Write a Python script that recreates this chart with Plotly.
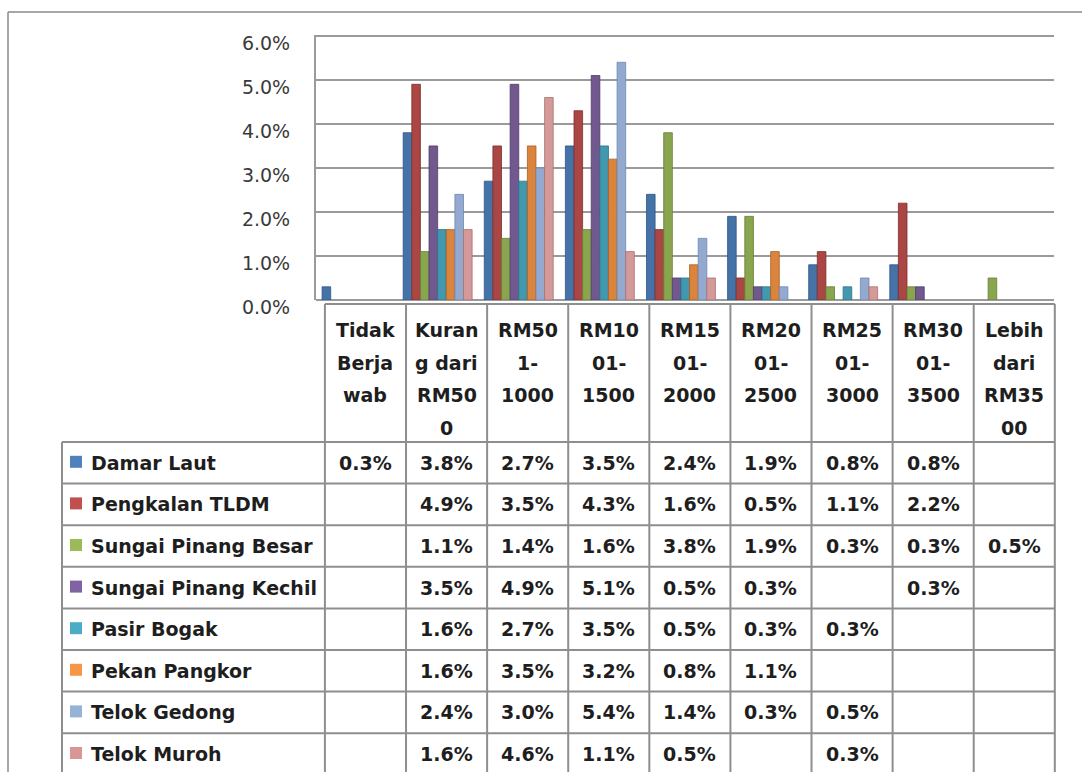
import plotly.graph_objects as go

# ---------------- data ----------------
categories = ["Tidak Berjawab", "Kurang dari RM500", "RM501-1000", "RM1001-1500",
              "RM1501-2000", "RM2001-2500", "RM2501-3000", "RM3001-3500",
              "Lebih dari RM3500"]
header_labels = [["Tidak", "Berja", "wab"], ["Kuran", "g dari", "RM50", "0"],
                 ["RM50", "1-", "1000"], ["RM10", "01-", "1500"], ["RM15", "01-", "2000"],
                 ["RM20", "01-", "2500"], ["RM25", "01-", "3000"], ["RM30", "01-", "3500"],
                 ["Lebih", "dari", "RM35", "00"]]
series_names = ["Damar Laut", "Pengkalan TLDM", "Sungai Pinang Besar",
                "Sungai Pinang Kechil", "Pasir Bogak", "Pekan Pangkor",
                "Telok Gedong", "Telok Muroh"]
damar_laut = [0.3, 3.8, 2.7, 3.5, 2.4, 1.9, 0.8, 0.8, None]
pengkalan_tldm = [None, 4.9, 3.5, 4.3, 1.6, 0.5, 1.1, 2.2, None]
sungai_pinang_besar = [None, 1.1, 1.4, 1.6, 3.8, 1.9, 0.3, 0.3, 0.5]
sungai_pinang_kechil = [None, 3.5, 4.9, 5.1, 0.5, 0.3, None, 0.3, None]
pasir_bogak = [None, 1.6, 2.7, 3.5, 0.5, 0.3, 0.3, None, None]
pekan_pangkor = [None, 1.6, 3.5, 3.2, 0.8, 1.1, None, None, None]
telok_gedong = [None, 2.4, 3.0, 5.4, 1.4, 0.3, 0.5, None, None]
telok_muroh = [None, 1.6, 4.6, 1.1, 0.5, None, 0.3, None, None]
series_values = [damar_laut, pengkalan_tldm, sungai_pinang_besar, sungai_pinang_kechil,
                 pasir_bogak, pekan_pangkor, telok_gedong, telok_muroh]
y_ticks = [0, 1, 2, 3, 4, 5, 6]

# ---------------- styles ----------------
bar_colors = ["#4572A7", "#AA4643", "#89A54E", "#71588F", "#4198AF", "#DB843D",
              "#93A9CF", "#D49A99"]
edge_colors = ["#2f5586", "#7d2f2d", "#647c35", "#4f3c68", "#2c7285", "#a95f24",
               "#6d86b3", "#a96e6d"]
key_colors = ["#4F81BD", "#C0504D", "#9BBB59", "#8064A2", "#4BACC6", "#F79646",
              "#95B3D7", "#D99694"]

W, H = 1082, 772
FONT = "DejaVu Sans"
LINE = "#8e8e8e"
GRID = "#9a9a9a"
TXT = "#1e1e1e"
FS = 19

D0, D1 = 316, 1054            # plot x-domain in px
R0, R1 = -0.5, 8.6            # x range
Y_TOP, Y_BOT = 35, 300        # plot y-domain in px
Y_MAX = 0.0602
COL_SHIFT = 0.11              # table columns sit slightly right of the 3-D bars


def px(x):
    return x / W


def py(y):
    return 1 - y / H


def col_px(v):
    return D0 + (v - R0) / (R1 - R0) * (D1 - D0)


fig = go.Figure()
for name, vals, c, ec in zip(series_names, series_values, bar_colors, edge_colors):
    fig.add_trace(go.Bar(
        x=list(range(len(categories))),
        y=[None if v is None else v / 100 for v in vals],
        name=name, marker=dict(color=c, line=dict(color=ec, width=0.8)),
        showlegend=False))

shapes = []
annotations = []

# top gridline of the back wall (6 %)
shapes.append(dict(type="line", xref="paper", yref="y", x0=px(D0), x1=px(D1),
                   y0=y_ticks[-1] / 100, y1=y_ticks[-1] / 100,
                   line=dict(color=GRID, width=2), layer="below"))

# outer chart border
shapes.append(dict(type="line", xref="paper", yref="paper", x0=px(8), x1=px(W + 5),
                   y0=py(12), y1=py(12), line=dict(color="#8a8a8a", width=1.5)))
shapes.append(dict(type="line", xref="paper", yref="paper", x0=px(8), x1=px(8),
                   y0=py(12), y1=py(H + 5), line=dict(color="#8a8a8a", width=1.5)))

# table geometry
n = len(categories)
bounds = [col_px(i - 0.5 + COL_SHIFT) for i in range(n + 1)]
centers = [(bounds[i] + bounds[i + 1]) / 2 for i in range(n)]
HEAD_TOP, HEAD_BOT = 304, 442
ROW_H = 41.6
row_tops = [HEAD_BOT + k * ROW_H for k in range(len(series_names) + 1)]
LABEL_LEFT = 62

tl = dict(color=LINE, width=2)
shapes.append(dict(type="line", xref="paper", yref="paper", x0=px(bounds[0]), x1=px(bounds[-1]),
                   y0=py(HEAD_TOP), y1=py(HEAD_TOP), line=tl))
for b in bounds:
    shapes.append(dict(type="line", xref="paper", yref="paper", x0=px(b), x1=px(b),
                       y0=py(HEAD_TOP), y1=py(H + 5), line=tl))
shapes.append(dict(type="line", xref="paper", yref="paper", x0=px(LABEL_LEFT), x1=px(LABEL_LEFT),
                   y0=py(HEAD_BOT), y1=py(H + 5), line=tl))
for rt in row_tops:
    shapes.append(dict(type="line", xref="paper", yref="paper", x0=px(LABEL_LEFT), x1=px(bounds[-1]),
                       y0=py(rt), y1=py(rt), line=tl))

tfont = dict(family=FONT, size=FS, color=TXT, weight="bold")

HEAD_LINE_Y = [330, 362.5, 395, 427.5]
for i, lines in enumerate(header_labels):
    for k, t in enumerate(lines):
        annotations.append(dict(xref="paper", yref="paper", x=px(centers[i]), y=py(HEAD_LINE_Y[k]),
                                text=t, showarrow=False, xanchor="center", yanchor="middle",
                                font=tfont))

for r, (name, vals) in enumerate(zip(series_names, series_values)):
    yc = row_tops[r] + ROW_H / 2
    shapes.append(dict(type="rect", xref="paper", yref="paper", x0=px(70), x1=px(82),
                       y0=py(yc - 7), y1=py(yc + 5), fillcolor=key_colors[r], line=dict(width=0)))
    annotations.append(dict(xref="paper", yref="paper", x=px(89), y=py(yc),
                            text=name, showarrow=False, xanchor="left", yanchor="middle",
                            font=tfont))
    for i, v in enumerate(vals):
        if v is None:
            continue
        annotations.append(dict(xref="paper", yref="paper", x=px(centers[i]), y=py(yc),
                                text=f"{v:.1f}%", showarrow=False, xanchor="center",
                                yanchor="middle", font=tfont))

fig.update_layout(
    width=W, height=H, margin=dict(l=0, r=0, t=0, b=0, autoexpand=False),
    paper_bgcolor="white", plot_bgcolor="white",
    barmode="group", bargap=0.15, bargroupgap=0,
    xaxis=dict(domain=[px(D0), px(D1)], range=[R0, R1], showticklabels=False,
               showgrid=False, zeroline=False, showline=False, fixedrange=True,
               automargin=False),
    yaxis=dict(domain=[py(Y_BOT), py(Y_TOP)], range=[0, Y_MAX],
               tickvals=[t / 100 for t in y_ticks], tickformat=".1%",
               showgrid=True, gridcolor=GRID, gridwidth=2,
               zeroline=True, zerolinecolor=GRID, zerolinewidth=2,
               showline=True, linecolor=GRID, linewidth=2,
               ticks="", ticklabelstandoff=20, ticklabelshift=7, automargin=False,
               tickfont=dict(family=FONT, size=FS, color="#3a3a3a"), fixedrange=True),
    shapes=shapes, annotations=annotations,
)
fig.write_html("out.html")
